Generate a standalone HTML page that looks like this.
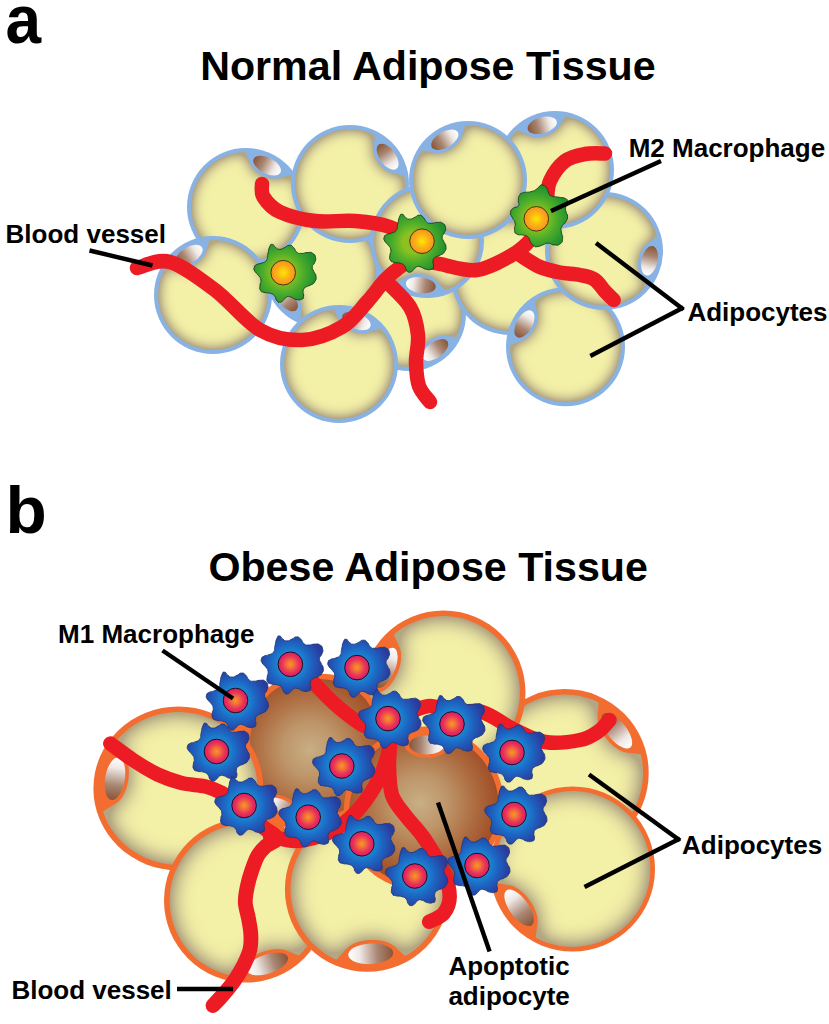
<!DOCTYPE html>
<html><head><meta charset="utf-8"><title>Adipose tissue</title>
<style>html,body{margin:0;padding:0;background:#fff}svg{display:block}text{font-family:"Liberation Sans",sans-serif;font-weight:bold;fill:#000}</style>
</head><body>
<svg width="829" height="1024" viewBox="0 0 829 1024">
<defs>
<filter id="fy" x="-25%" y="-25%" width="150%" height="150%" color-interpolation-filters="sRGB">
<feGaussianBlur in="SourceAlpha" stdDeviation="7" result="bl"/>
<feComponentTransfer in="bl" result="bl2"><feFuncA type="linear" slope="2" intercept="-1"/></feComponentTransfer>
<feFlood flood-color="#f3f0a7" result="lt"/>
<feComposite in="lt" in2="bl2" operator="in" result="ltIn"/>
<feFlood flood-color="#b3a683" result="dk"/>
<feMerge result="m"><feMergeNode in="dk"/><feMergeNode in="ltIn"/></feMerge>
<feComposite in="m" in2="SourceAlpha" operator="in"/>
</filter>
<filter id="fyb" x="-25%" y="-25%" width="150%" height="150%" color-interpolation-filters="sRGB">
<feGaussianBlur in="SourceAlpha" stdDeviation="11" result="bl"/>
<feComponentTransfer in="bl" result="bl2"><feFuncA type="linear" slope="2" intercept="-1"/></feComponentTransfer>
<feFlood flood-color="#f3f0a7" result="lt"/>
<feComposite in="lt" in2="bl2" operator="in" result="ltIn"/>
<feFlood flood-color="#b3a683" result="dk"/>
<feMerge result="m"><feMergeNode in="dk"/><feMergeNode in="ltIn"/></feMerge>
<feComposite in="m" in2="SourceAlpha" operator="in"/>
</filter>
<linearGradient id="nu" x1="0" y1="0.5" x2="1" y2="0.5"><stop offset="0" stop-color="#8a5436"/><stop offset="0.35" stop-color="#a98773"/><stop offset="0.75" stop-color="#efe9e6"/><stop offset="1" stop-color="#fff"/></linearGradient>
<radialGradient id="mg" gradientUnits="userSpaceOnUse" cx="0" cy="0" r="33"><stop offset="0.3" stop-color="#8cc21f"/><stop offset="0.6" stop-color="#4fae2a"/><stop offset="1" stop-color="#1f8f2f"/></radialGradient>
<radialGradient id="ng" cx="0.5" cy="0.5" r="0.5"><stop offset="0" stop-color="#ffe800"/><stop offset="0.55" stop-color="#fbb017"/><stop offset="1" stop-color="#f7931e"/></radialGradient>
<radialGradient id="mb" gradientUnits="userSpaceOnUse" cx="0" cy="0" r="33"><stop offset="0.3" stop-color="#1a8fd6"/><stop offset="0.62" stop-color="#1d65c2"/><stop offset="1" stop-color="#2b3a9c"/></radialGradient>
<radialGradient id="nb" cx="0.5" cy="0.5" r="0.5"><stop offset="0" stop-color="#f79a1e"/><stop offset="0.3" stop-color="#f2703a"/><stop offset="0.7" stop-color="#e8305a"/><stop offset="1" stop-color="#dc1c66"/></radialGradient>
<radialGradient id="bg1" gradientUnits="userSpaceOnUse" cx="310" cy="750" r="78.5"><stop offset="0" stop-color="#c9ae84"/><stop offset="0.35" stop-color="#bd9569"/><stop offset="0.7" stop-color="#ad6c40"/><stop offset="1" stop-color="#a04c24"/></radialGradient><radialGradient id="bg2" gradientUnits="userSpaceOnUse" cx="419.5" cy="803" r="79.5"><stop offset="0" stop-color="#c9ae84"/><stop offset="0.35" stop-color="#bd9569"/><stop offset="0.7" stop-color="#ad6c40"/><stop offset="1" stop-color="#a04c24"/></radialGradient></defs>
<rect width="829" height="1024" fill="#fff"/>
<!-- A8 -->
<circle cx="409" cy="314" r="57" fill="#88b2e3"/>
<path d="M415.2,366.6 416,366.3 416.5,365.6 418.8,354.3 419.4,352.3 420.4,350.2 421.7,348.1 423.9,345.4 425.8,343.4 428.7,341.1 431.8,339.1 434.3,337.8 437.5,336.6 440.6,335.9 444.3,335.8 455.7,337 456.4,336.9 457,336.4 458.6,332.7 459.7,329.4 461.3,322.6 461.7,319.2 462,314 461.6,307.1 460.6,302 459.2,297 457.3,292.2 454.9,287.5 452.1,283.2 448.9,279.1 445.3,275.3 441.3,272 437,269 432.5,266.5 427.7,264.4 422.8,262.8 417.7,261.7 412.5,261.1 407.3,261 402.1,261.4 397,262.4 392,263.8 387.2,265.7 382.5,268.1 378.2,270.9 374.1,274.1 370.3,277.7 367,281.7 364,286 361.5,290.5 359.4,295.3 357.8,300.2 356.7,305.3 356.1,310.5 356,315.7 356.4,320.9 357.4,326 358.8,331 360.7,335.8 363.1,340.5 365.9,344.8 369.1,348.9 372.7,352.7 376.7,356 381,359 385.5,361.5 390.3,363.6 395.2,365.2 400.3,366.3 405.5,366.9 410.7,367Z" fill="#f3f0a7" filter="url(#fy)"/>
<ellipse cx="0" cy="0" rx="15" ry="8" fill="url(#nu)" transform="translate(435.2,350) rotate(144)"/>
<!-- A9 -->
<circle cx="510" cy="276" r="59" fill="#88b2e3"/>
<path d="M565,276 564.7,270.6 563.9,265.3 562.6,260 560.8,255 558.5,250.1 555.7,245.4 552.5,241.1 548.9,237.1 544.9,233.5 540.6,230.3 535.9,227.5 531,225.2 526,223.4 520.7,222.1 515.4,221.3 510,221 504.6,221.3 499.3,222.1 494,223.4 489,225.2 484.1,227.5 479.4,230.3 475.1,233.5 471.1,237.1 467.5,241.1 464.3,245.4 461.5,250.1 459.2,255 457.4,260 456.1,265.3 455.3,270.6 455,276 455.3,281.4 456.1,286.7 457.4,292 459.2,297 461.5,301.9 464.3,306.6 467.5,310.9 471.1,314.9 475.1,318.5 479.4,321.7 484.1,324.5 489,326.8 494,328.6 499.3,329.9 504.6,330.7 510,331 515.4,330.7 520.7,329.9 526,328.6 531,326.8 535.9,324.5 540.6,321.7 544.9,318.5 548.9,314.9 552.5,310.9 555.7,306.6 558.5,301.9 560.8,297 562.6,292 563.9,286.7 564.7,281.4Z" fill="#f3f0a7" filter="url(#fy)"/>
<!-- A5 -->
<circle cx="322" cy="270" r="58" fill="#88b2e3"/>
<path d="M268.9,279.5 269.2,280.3 270,280.8 281.5,282.5 283.6,283.1 285.6,283.9 287.9,285.1 290.6,287.1 292.7,289 295.2,291.7 297.3,294.7 298.7,297.1 300.1,300.3 301,303.4 301.3,307 300.6,318.7 300.8,319.3 301.3,319.9 304.6,321.1 308,322.1 315,323.5 320.2,324 323.7,324 330.8,323.3 336,322.1 341.1,320.5 345.9,318.4 350.6,315.8 354.9,312.8 358.9,309.4 362.6,305.6 365.9,301.4 368.8,297 371.2,292.2 373.1,287.3 374.6,282.2 375.5,277 376,271.7 375.9,266.4 375.3,261.2 374.1,256 372.5,250.9 370.4,246.1 367.8,241.4 364.8,237.1 361.4,233.1 357.6,229.4 353.4,226.1 349,223.2 344.2,220.8 339.3,218.9 334.2,217.4 329,216.5 323.7,216 318.4,216.1 313.2,216.7 308,217.9 302.9,219.5 298.1,221.6 293.4,224.2 289.1,227.2 285.1,230.6 281.4,234.4 278.1,238.6 275.2,243 272.8,247.8 270.9,252.7 269.4,257.8 268.5,263 268,268.3 268.1,273.6Z" fill="#f3f0a7" filter="url(#fy)"/>
<ellipse cx="0" cy="0" rx="15" ry="8" fill="url(#nu)" transform="translate(286.6,298.6) rotate(231)"/>
<!-- A1 -->
<circle cx="246" cy="207" r="59" fill="#88b2e3"/>
<path d="M250.3,163.9 246.1,152.9 245.6,152.2 244.9,152 240.6,152.3 237.1,152.7 230.1,154.4 223.3,156.9 220,158.5 216.9,160.3 211.1,164.5 207.1,168.1 203.5,172.1 199.3,177.9 196.7,182.7 193.9,189.3 192.4,194.6 191.3,201.6 191,207 191.3,212.4 192,217.7 193.4,222.9 195.2,228 197.5,232.9 200.2,237.5 203.5,241.9 207.1,245.9 211.1,249.5 215.4,252.7 220,255.5 224.9,257.8 230,259.6 235.2,260.9 240.6,261.7 246,262 251.4,261.7 256.7,261 261.9,259.6 267,257.8 271.9,255.5 276.5,252.8 280.9,249.5 284.9,245.9 288.5,241.9 291.7,237.6 294.5,233 296.8,228.1 298.6,223 299.9,217.8 300.7,212.4 301,208.8 300.9,203.4 300.3,198 299.1,192.8 298.1,189.3 296.1,184.3 293.7,179.5 291,175.5 290.4,175.1 289.7,175.1 278.5,178.2 276.3,178.5 272.3,178.5 268.1,177.7 264.7,176.5 262.1,175.4 259.7,174 257.4,172.4 255.3,170.7 253,168.3 251.6,166.4Z" fill="#f3f0a7" filter="url(#fy)"/>
<ellipse cx="0" cy="0" rx="15" ry="8" fill="url(#nu)" transform="translate(267.1,165.6) rotate(27)"/>
<!-- A3 -->
<circle cx="350" cy="184" r="59" fill="#88b2e3"/>
<path d="M373.3,148.9 374.7,135.8 374.5,135.1 374.1,134.6 371.1,133.2 367.6,131.9 360.7,130 353.6,129.1 346.4,129.1 339.3,130 334,131.4 327.3,133.9 322.5,136.4 316.6,140.3 312.4,143.9 307.5,149.1 304.2,153.5 301.5,158.1 299.2,163 297.4,168.1 296,173.3 295.3,178.6 295,184 295.3,189.4 296.1,194.8 297.4,200 299.2,205.1 301.5,210 304.3,214.6 307.5,218.9 311.1,222.9 315.1,226.5 319.5,229.8 324.1,232.5 329,234.8 334.1,236.6 339.3,238 344.6,238.7 350,239 355.4,238.7 360.8,237.9 366,236.6 371.1,234.8 376,232.5 380.6,229.7 384.9,226.5 388.9,222.9 392.5,218.9 395.8,214.5 398.5,210 400.8,205.1 402.1,201.6 403.6,196.4 404.5,191.1 405,185.8 404.9,180.4 404.4,176.3 404.1,175.8 403.5,175.4 392,173.1 390,172.4 387.1,171 383.6,168.5 381.1,166 379.3,163.9 376.3,159.2 375.1,156.7 374.2,154.3 373.6,151.9Z" fill="#f3f0a7" filter="url(#fy)"/>
<ellipse cx="0" cy="0" rx="15" ry="8" fill="url(#nu)" transform="translate(387.6,156.7) rotate(54)"/>
<!-- A12 -->
<circle cx="565.5" cy="346.8" r="59.5" fill="#88b2e3"/>
<path d="M511.1,344.5 510.3,345 510,345.8 510.3,352.2 511.4,359.4 513,364.7 515,369.7 517.5,374.6 520.4,379.2 525,384.7 528.9,388.5 533.1,391.9 537.7,394.8 542.6,397.3 547.6,399.3 552.9,400.8 558.2,401.8 563.6,402.3 569.1,402.2 574.5,401.6 579.8,400.4 585,398.8 590,396.6 594.8,394 599.3,390.9 603.4,387.3 607.2,383.4 610.6,379.2 613.5,374.6 616,369.7 618,364.7 619.5,359.4 620.5,354.1 621,348.7 620.9,343.2 620.3,337.8 619.1,332.5 617.5,327.3 615.3,322.3 612.7,317.5 609.6,313 606,308.9 602.1,305.1 597.9,301.7 593.3,298.8 588.4,296.3 583.4,294.3 578.1,292.8 572.8,291.8 567.4,291.3 563.6,291.3 560,291.6 554.7,292.4 551.1,293.2 547.6,294.3 542.6,296.2 539.3,297.9 535.1,300.4 534.7,301 534.7,301.7 537.4,313.2 537.7,316.8 537.4,320.1 536.6,323.4 535.6,326 534,329.3 532,332.5 530.3,334.7 527.9,337.1 525.4,339.1 522.1,340.8Z" fill="#f3f0a7" filter="url(#fy)"/>
<ellipse cx="0" cy="0" rx="15" ry="8" fill="url(#nu)" transform="translate(524.4,324) rotate(-61)"/>
<!-- A11 -->
<circle cx="604" cy="251" r="59" fill="#88b2e3"/>
<path d="M638,264.8 638.3,261.1 639.2,256.5 640.7,252.3 642.7,248.5 644.6,245.9 646.3,244.3 656.3,237.1 656.7,236.5 656.8,235.7 654.8,230 652.5,225 648.7,219 645.3,214.7 640.3,209.7 636,206.3 630,202.5 625,200.2 619.9,198.4 614.7,197 609.4,196.3 604,196 598.6,196.3 593.2,197.1 588,198.4 582.9,200.2 578,202.5 573.4,205.3 569.1,208.5 565.1,212.1 561.5,216.1 558.2,220.5 555.5,225.1 553.2,230 551.4,235.1 550,240.3 549.3,245.6 549,251 549.3,256.4 550.1,261.8 551.4,267 553.2,272.1 555.5,277 558.3,281.6 561.5,285.9 565.1,289.9 569.1,293.5 573.5,296.8 578.1,299.5 583,301.8 589.8,304.1 596.8,305.5 604,306 609.4,305.7 616.5,304.6 623.3,302.5 629.9,299.5 634.6,296.7 637.5,294.6 641.6,291.2 645.3,287.3 646,286.5 646.3,285.8 646.1,284.8 640.2,274.9 639.3,272.9 638.3,269.1Z" fill="#f3f0a7" filter="url(#fy)"/>
<ellipse cx="0" cy="0" rx="15" ry="8" fill="url(#nu)" transform="translate(649.5,260.7) rotate(102)"/>
<!-- A7 -->
<circle cx="427" cy="241" r="57" fill="#88b2e3"/>
<path d="M406,276.8 407.9,275.8 410.1,275 413.3,274.2 415.9,273.9 418.6,273.9 421.4,274.1 425.1,274.7 427.8,275.4 431.8,277.1 433.9,278.3 435.7,279.7 437.3,281.3 444.6,290 445.2,290.4 445.9,290.5 450.4,288.6 455,286 457.9,284.1 461.9,280.9 464.5,278.4 467.9,274.7 470.1,271.8 472.9,267.5 475.3,262.9 477.2,258.1 478.6,253.1 479.5,248 480,242.8 479.9,237.6 479.3,232.4 478.2,227.3 476.6,222.4 474.6,217.6 472,213 469.1,208.8 465.7,204.8 462,201.2 457.9,197.9 453.5,195.1 448.9,192.7 444.1,190.8 439.1,189.4 434,188.5 428.8,188 423.6,188.1 418.4,188.7 413.3,189.8 408.4,191.4 403.6,193.4 399,196 394.8,198.9 390.8,202.3 387.2,206 383.9,210.1 381.1,214.5 378.7,219.2 376.3,225.6 375,230.7 374.1,237.5 374,242.8 374.7,249.6 375.8,254.8 378,261.2 381.1,267.5 385,273.3 389.6,278.5 392.1,280.9 395,283.3 395.9,283.5 396.5,283.3Z" fill="#f3f0a7" filter="url(#fy)"/>
<ellipse cx="0" cy="0" rx="15" ry="8" fill="url(#nu)" transform="translate(420.8,285.1) rotate(188)"/>
<!-- A2 -->
<circle cx="213" cy="295" r="59" fill="#88b2e3"/>
<path d="M178.7,268.5 167.2,266.2 166.5,266.3 165.8,266.8 163.7,270.6 162.2,273.9 159.9,280.7 159,284.3 158.5,287.9 158,295 158.5,302.1 159.4,307.5 160.9,312.7 163.7,319.3 166.3,324.1 170.5,329.9 174.1,333.9 179.5,338.6 183.9,341.7 188.6,344.3 193.6,346.5 198.7,348.1 204,349.3 209.4,349.9 214.8,350 220.1,349.5 225.4,348.6 230.6,347.1 235.7,345.1 240.5,342.7 245,339.7 249.2,336.4 253.1,332.6 256.6,328.5 259.7,324.1 262.3,319.4 264.5,314.4 266.1,309.3 267.3,304 267.9,298.6 268,293.2 267.5,287.9 266.6,282.6 265.1,277.4 263.1,272.3 260.7,267.5 257.7,263 254.4,258.8 250.6,254.9 246.5,251.4 243.5,249.2 238.9,246.5 234,244.2 229,242.4 225.4,241.4 220.1,240.5 214.8,240 210.1,240.1 209.5,240.4 209.1,241 205.8,252.2 204.9,254.3 202.8,257.6 199.8,260.7 197.1,263 194.7,264.6 192.2,265.9 189.7,267 187.2,267.9 183.9,268.5 181.5,268.7Z" fill="#f3f0a7" filter="url(#fy)"/>
<ellipse cx="0" cy="0" rx="15" ry="8" fill="url(#nu)" transform="translate(189.1,255.1) rotate(-31)"/>
<!-- A6 -->
<circle cx="339" cy="364" r="59" fill="#88b2e3"/>
<path d="M334.5,310.2 333.9,309.6 333.1,309.3 326.6,310.4 321.3,311.9 314.7,314.7 310,317.3 305.5,320.4 301.4,323.9 297.6,327.8 294.3,332 291.3,336.5 288.9,341.3 286.9,346.4 285.1,353.2 284.3,358.6 284,364 284.3,369.4 285,374.7 286.4,379.9 288.2,385 290.5,389.9 293.2,394.5 296.5,398.9 300.1,402.9 304.1,406.5 308.4,409.7 313,412.5 317.9,414.8 323,416.6 328.2,417.9 333.6,418.7 339,419 344.4,418.7 349.7,418 354.9,416.6 360,414.8 364.9,412.5 369.5,409.8 373.9,406.5 377.9,402.9 381.5,398.9 384.7,394.6 387.5,390 389.8,385.1 391.6,380 392.9,374.8 393.7,369.4 394,364 393.7,358.6 393.3,355 392.6,351.5 391.1,346.4 389.8,342.9 388.3,339.6 385.7,335 383.7,331.9 381.1,328.7 380.4,328.4 379.8,328.4 368.7,332.5 365.2,333.2 361.9,333.3 358.5,332.9 355.8,332.3 352.3,331.1 349,329.5 346.6,328.1 343.9,326 341.6,323.7 339.5,320.7Z" fill="#f3f0a7" filter="url(#fy)"/>
<ellipse cx="0" cy="0" rx="15" ry="8" fill="url(#nu)" transform="translate(356.4,320.9) rotate(22)"/>
<!-- A10 -->
<circle cx="555" cy="170" r="59" fill="#88b2e3"/>
<path d="M528.7,135.6 518.2,130.3 517.3,130.2 516.7,130.5 513.7,133.7 511.4,136.5 507.4,142.5 505.7,145.7 504.2,149 501.9,155.8 500.5,162.8 500,168.2 500.3,175.4 501.1,180.8 502.9,187.6 504.9,192.7 508.3,199 511.3,203.4 514.8,207.6 518.7,211.3 522.9,214.7 527.5,217.6 532.3,220.1 537.3,222.1 542.5,223.6 547.8,224.5 553.2,225 558.6,224.9 563.9,224.3 569.2,223.1 574.3,221.5 579.3,219.3 584,216.7 588.4,213.7 592.6,210.2 596.3,206.3 599.7,202.1 602.6,197.5 605.1,192.7 607.1,187.7 608.6,182.5 609.5,177.2 610,171.8 609.9,166.4 609.3,161.1 608.1,155.8 606.5,150.7 604.3,145.7 601.7,141 598.7,136.6 596.3,133.7 592.6,129.8 588.5,126.4 584.1,123.3 580.9,121.5 576,119.2 571,117.4 566.4,116.2 565.7,116.4 565.2,116.8 559.1,126.8 557.7,128.6 554.8,131.2 551.2,133.5 547.9,135 545.2,135.9 542.5,136.5 539.8,136.9 537.1,137.1 533.8,136.9 531.4,136.5Z" fill="#f3f0a7" filter="url(#fy)"/>
<ellipse cx="0" cy="0" rx="15" ry="8" fill="url(#nu)" transform="translate(542.2,125.3) rotate(-16)"/>
<!-- A4 -->
<circle cx="468" cy="180" r="59" fill="#88b2e3"/>
<path d="M422.9,150.4 422,150.5 421.3,151 418.7,155.7 415.9,162.3 414.4,167.6 413.3,174.6 413,180 413.3,185.4 414,190.7 415.4,195.9 417.2,201.1 419.5,206 422.3,210.6 425.5,214.9 429.1,218.9 433.1,222.5 437.5,225.8 442.1,228.5 447,230.8 452.1,232.6 457.3,234 462.6,234.7 468,235 473.4,234.7 478.8,233.9 484,232.6 489.1,230.8 494,228.5 498.6,225.7 502.9,222.5 506.9,218.9 510.5,214.9 513.8,210.5 516.5,205.9 518.8,201 520.6,195.9 522,190.7 522.7,185.4 523,180 522.7,174.6 521.9,169.2 520.6,164 518.8,158.9 516.5,154 513.7,149.4 510.5,145.1 506.9,141.1 502.9,137.5 498.5,134.2 494,131.5 490.7,129.9 487.3,128.5 482.3,126.9 478.7,126 473.4,125.3 469.8,125 466.1,125.1 465.5,125.4 465,125.9 461.5,137.2 459.9,140.4 457.9,143 455.5,145.5 453.3,147.2 450.3,149.2 447,150.9 444.4,151.9 441,152.8 437.8,153.2 434.2,152.9Z" fill="#f3f0a7" filter="url(#fy)"/>
<ellipse cx="0" cy="0" rx="15" ry="8" fill="url(#nu)" transform="translate(444.8,139.7) rotate(-30)"/>
<path d="M137,268C142.5,267 157,258.3 170,262C183,265.7 200,278.7 215,290C230,301.3 245.5,321.7 260,330C274.5,338.3 288.3,340.5 302,340C315.7,339.5 331.2,333.3 342,327C352.8,320.7 359.8,309.8 367,302C374.2,294.2 379.5,285.8 385,280C390.5,274.2 394.5,271 400,267C405.5,263 415,257.8 418,256" fill="none" stroke="#ed1c24" stroke-width="14.5" stroke-linecap="round" stroke-linejoin="round"/>
<path d="M415,258C419.2,259 429.7,262 440,264C450.3,266 465,271.5 477,270C489,268.5 502.8,260.3 512,255C521.2,249.7 526.5,244.7 532,238C537.5,231.3 542.8,218.8 545,215" fill="none" stroke="#ed1c24" stroke-width="14.5" stroke-linecap="round" stroke-linejoin="round"/>
<path d="M547,200C547.5,196.8 547,187.5 550,181C553,174.5 559.2,165.5 565,161C570.8,156.5 578.3,155.2 585,154C591.7,152.8 601.7,153.6 605,153.5" fill="none" stroke="#ed1c24" stroke-width="14.5" stroke-linecap="round" stroke-linejoin="round"/>
<path d="M520,255C523.3,257 533.3,264.1 540,267C546.7,269.9 553.3,271.2 560,272.5C566.7,273.8 574.2,273.8 580,275C585.8,276.2 590.5,276.9 594.6,279.6C598.8,282.3 601.7,287.9 604.9,291.3C608.1,294.7 612.2,298.6 613.7,300" fill="none" stroke="#ed1c24" stroke-width="14.5" stroke-linecap="round" stroke-linejoin="round"/>
<path d="M262,184C262.2,186.2 260.5,192.3 263.5,197C266.5,201.7 271.4,208 280,212C288.6,216 302.5,219.5 315,221C327.5,222.5 342.5,220 355,221C367.5,222 380.8,223.8 390,227C399.2,230.2 406.7,237.8 410,240" fill="none" stroke="#ed1c24" stroke-width="14.5" stroke-linecap="round" stroke-linejoin="round"/>
<path d="M387,282C390.8,286.2 404.8,298.2 410,307C415.2,315.8 417,325.8 418,335C419,344.2 415.8,353.5 416,362C416.2,370.5 416.7,379.3 419,386C421.3,392.7 428.2,399.3 430,402" fill="none" stroke="#ed1c24" stroke-width="14.5" stroke-linecap="round" stroke-linejoin="round"/>
<g transform="translate(283.2,272.7)"><path d="M-10.8,-28.3C-8.8,-28.1 -10.1,-26.9 -7.6,-25.2C-5.2,-23.6 -6.5,-23.4 -3.5,-23.4C-0.4,-23.4 -1.7,-23.9 1.6,-25.2C4.8,-26.6 3.2,-27.4 6.1,-27.4C9.1,-27.4 7.8,-27.5 10.3,-25.2C12.7,-23 10.9,-22.6 13.5,-20.7C16.1,-18.7 14.4,-19.4 18.1,-19.3C21.8,-19.1 20.7,-20.2 24.5,-20.2C28.3,-20.2 27,-21 29.6,-19.3C32.2,-17.6 31.7,-18.2 32.3,-15.1C32.9,-12.1 32.5,-13.2 31.4,-10.1C30.3,-7 29.4,-8.9 29.1,-6C28.8,-3.1 29.2,-4.6 30.5,-1.4C31.7,1.8 32.5,0.2 32.8,3.7C33.1,7.2 33.2,6.3 31.4,9.2C29.6,12.1 30.3,10.6 27.3,12.4C24.2,14.2 24.7,12.7 22.2,14.7C19.8,16.7 20.5,15.3 19.9,18.4C19.3,21.4 21,21.1 20.4,23.9C19.8,26.6 20.7,25.7 18.1,26.6C15.5,27.5 16.1,27.4 12.6,26.6C9.1,25.9 10.6,25.1 7.5,24.3C4.5,23.6 5.8,23.3 3.4,24.3C0.9,25.4 2.5,25.8 0.2,27.5C-2.1,29.3 -1.2,29.6 -3.5,29.6C-5.8,29.6 -5,29.6 -6.7,27.5C-8.4,25.5 -6.5,25.7 -8.5,23.4C-10.5,21.1 -9.1,21.9 -12.7,20.7C-16.2,19.4 -15.7,20.8 -19.1,19.7C-22.5,18.7 -21.4,19.7 -22.8,17.4C-24.1,15.1 -23.4,16.2 -23.2,12.8C-23.1,9.5 -21.8,10.7 -22.3,7.3C-22.8,4 -22.6,5.7 -24.6,2.8C-26.6,-0.2 -26.8,1.4 -28.3,-1.4C-29.7,-4.1 -29.5,-3.3 -28.9,-5.5C-28.3,-7.7 -28.9,-6.7 -26.4,-8.1C-23.9,-9.5 -24.6,-8.2 -21.4,-9.6C-18.2,-11.1 -18.8,-9.5 -16.8,-12.4C-14.8,-15.3 -16.5,-13.9 -15.4,-18.4C-14.3,-22.8 -15.1,-22.4 -13.6,-25.7C-12.1,-29 -12.8,-28.4 -10.8,-28.3Z" fill="url(#mg)" stroke="#143d14" stroke-width="0.9"/><circle r="12.3" fill="url(#ng)" stroke="#3a2a10" stroke-width="0.9"/></g>
<g transform="translate(422,241.2)"><path d="M-10.8,-28.3C-8.8,-28.1 -10.1,-26.9 -7.6,-25.2C-5.2,-23.6 -6.5,-23.4 -3.5,-23.4C-0.4,-23.4 -1.7,-23.9 1.6,-25.2C4.8,-26.6 3.2,-27.4 6.1,-27.4C9.1,-27.4 7.8,-27.5 10.3,-25.2C12.7,-23 10.9,-22.6 13.5,-20.7C16.1,-18.7 14.4,-19.4 18.1,-19.3C21.8,-19.1 20.7,-20.2 24.5,-20.2C28.3,-20.2 27,-21 29.6,-19.3C32.2,-17.6 31.7,-18.2 32.3,-15.1C32.9,-12.1 32.5,-13.2 31.4,-10.1C30.3,-7 29.4,-8.9 29.1,-6C28.8,-3.1 29.2,-4.6 30.5,-1.4C31.7,1.8 32.5,0.2 32.8,3.7C33.1,7.2 33.2,6.3 31.4,9.2C29.6,12.1 30.3,10.6 27.3,12.4C24.2,14.2 24.7,12.7 22.2,14.7C19.8,16.7 20.5,15.3 19.9,18.4C19.3,21.4 21,21.1 20.4,23.9C19.8,26.6 20.7,25.7 18.1,26.6C15.5,27.5 16.1,27.4 12.6,26.6C9.1,25.9 10.6,25.1 7.5,24.3C4.5,23.6 5.8,23.3 3.4,24.3C0.9,25.4 2.5,25.8 0.2,27.5C-2.1,29.3 -1.2,29.6 -3.5,29.6C-5.8,29.6 -5,29.6 -6.7,27.5C-8.4,25.5 -6.5,25.7 -8.5,23.4C-10.5,21.1 -9.1,21.9 -12.7,20.7C-16.2,19.4 -15.7,20.8 -19.1,19.7C-22.5,18.7 -21.4,19.7 -22.8,17.4C-24.1,15.1 -23.4,16.2 -23.2,12.8C-23.1,9.5 -21.8,10.7 -22.3,7.3C-22.8,4 -22.6,5.7 -24.6,2.8C-26.6,-0.2 -26.8,1.4 -28.3,-1.4C-29.7,-4.1 -29.5,-3.3 -28.9,-5.5C-28.3,-7.7 -28.9,-6.7 -26.4,-8.1C-23.9,-9.5 -24.6,-8.2 -21.4,-9.6C-18.2,-11.1 -18.8,-9.5 -16.8,-12.4C-14.8,-15.3 -16.5,-13.9 -15.4,-18.4C-14.3,-22.8 -15.1,-22.4 -13.6,-25.7C-12.1,-29 -12.8,-28.4 -10.8,-28.3Z" transform="translate(-8.9,1.4)" fill="url(#mg)" stroke="#143d14" stroke-width="0.9"/><circle r="12.3" fill="url(#ng)" stroke="#3a2a10" stroke-width="0.9"/></g>
<g transform="translate(536.3,218.8)"><path d="M6.5,-33.7C8.7,-32.9 8.3,-33.7 10.3,-30.9C12.3,-28.2 10.9,-28.2 12.5,-25.5C14.1,-22.8 12.1,-24.1 15.2,-22.8C18.3,-21.5 17,-22.6 21.7,-21.7C26.4,-20.8 26.1,-21.9 29.3,-20.1C32.5,-18.3 31.3,-19.2 31.3,-16.3C31.3,-13.4 29.8,-14.7 29.3,-11.4C28.8,-8.1 29.2,-9.6 29.9,-6.5C30.5,-3.4 31.5,-5.4 31.3,-2.2C31.1,1.1 31.2,0 29.3,3.3C27.4,6.5 27,4.3 25.5,7.6C24.1,10.9 24.7,9 25,13C25.2,17 26.6,15.6 26.3,19.5C25.9,23.5 26.7,22.8 23.9,25C21.1,27.1 21.9,26.2 17.9,26.1C13.9,25.9 15.7,24.4 11.9,24.4C8.1,24.4 10,25 6.5,26.1C3.1,27.1 4.5,27.3 1.6,27.7C-1.3,28 0.4,28.8 -2.2,27.1C-4.7,25.5 -4,25.7 -6,22.8C-8,19.9 -5.8,20.6 -8.1,18.5C-10.5,16.3 -9.2,17.4 -13,16.3C-16.8,15.2 -16.6,17 -19.5,15.2C-22.4,13.4 -21.2,14.5 -21.7,10.9C-22.3,7.2 -20.4,8.3 -21.2,4.3C-21.9,0.4 -22.4,2.4 -23.9,-1.1C-25.4,-4.5 -25.9,-2.9 -25.7,-6C-25.6,-9 -26,-8 -23.3,-10.3C-20.7,-12.7 -19.7,-10.3 -17.9,-13C-16.1,-15.7 -18.3,-15 -17.9,-18.5C-17.6,-21.9 -18.5,-20.8 -16.8,-23.3C-15.2,-25.9 -16.8,-24.8 -13,-26.1C-9.2,-27.3 -10,-25.9 -5.4,-27.1C-0.9,-28.4 -2.5,-27.9 0.5,-29.9C3.6,-31.8 1.8,-31.8 3.8,-33.1C5.8,-34.4 4.3,-34.4 6.5,-33.7Z" fill="url(#mg)" stroke="#143d14" stroke-width="0.9"/><circle r="12.3" fill="url(#ng)" stroke="#3a2a10" stroke-width="0.9"/></g>
<line x1="89.5" y1="250.5" x2="152.5" y2="265.5" stroke="#000" stroke-width="4.4"/>
<line x1="551" y1="211" x2="661" y2="161" stroke="#000" stroke-width="4.4"/>
<line x1="596" y1="243" x2="683.5" y2="309.5" stroke="#000" stroke-width="4.4"/>
<line x1="590.3" y1="356" x2="683.5" y2="307.5" stroke="#000" stroke-width="4.4"/>
<!-- B3 -->
<circle cx="564.7" cy="773" r="84" fill="#f26d2f"/>
<path d="M597.5,717.8 598.7,703.3 598.4,702.5 597.8,701.9 592.4,699.6 587.4,698 580.1,696.1 575,695.3 569.8,694.8 564.6,694.6 559.5,694.8 552,695.6 544.5,697.3 537,699.6 532.3,701.6 527.8,703.8 521.1,707.9 517,710.8 513.1,714 507.4,719.5 502.5,725.3 499.6,729.4 496.8,733.7 493.3,740.6 490.5,747.7 488.4,755.1 487,762.7 486.3,770.4 486.5,778.1 487.3,785.7 489,793.2 491.3,800.6 494.4,807.6 498.1,814.3 502.5,820.7 507.4,826.5 513,831.9 519,836.7 525.4,840.9 532.3,844.4 539.4,847.2 546.8,849.3 554.4,850.7 562.1,851.4 569.8,851.2 577.4,850.4 584.9,848.7 592.3,846.4 599.3,843.3 606,839.6 612.4,835.2 618.2,830.3 623.6,824.7 628.4,818.7 632.6,812.3 636.1,805.4 638.9,798.3 641,790.9 642.4,783.3 643.1,775.6 642.9,767.9 642.1,760.3 641,755.1 640.6,754.5 639.9,754.2 626.4,752.5 623.1,751.7 621.1,750.9 618.4,749.4 615.5,747.5 612.8,745.4 610,742.8 606.7,739.1 604.4,735.9 601.8,731.8 600.1,728.5 598.6,724.4 597.9,721.3Z" fill="#f3f0a7" filter="url(#fyb)"/>
<ellipse cx="0" cy="0" rx="21.5" ry="9.5" fill="url(#nu)" transform="translate(616.8,730.8) rotate(51)"/>
<!-- B2 -->
<circle cx="443.5" cy="692.5" r="82" fill="#f26d2f"/>
<path d="M368.4,696.6 367.6,697.1 367.3,698 367.8,702.5 368.6,707.5 369.7,712.3 371.1,717 373.9,724.1 377.4,730.8 381.4,737.1 386.1,742.9 389.5,746.6 393.1,749.9 398.9,754.6 405.2,758.6 411.9,762.1 418.9,764.8 426.1,766.9 433.5,768.2 440.9,768.9 448.4,768.7 455.9,767.9 463.2,766.3 470.4,764 477.2,761 483.8,757.4 490,753.2 495.7,748.3 500.9,742.9 505.6,737.1 509.6,730.8 513.1,724.1 515.8,717.1 517.9,709.9 519.2,702.5 519.9,695.1 519.7,687.6 518.9,680.1 517.3,672.8 515,665.6 512,658.8 508.4,652.2 504.2,646 499.3,640.3 493.9,635.1 488.1,630.4 481.8,626.4 475.1,622.9 468.1,620.2 460.9,618.1 453.5,616.8 446.1,616.1 438.6,616.3 433.5,616.8 426.2,618.1 421.3,619.4 414.3,621.9 409.7,624 403.2,627.6 398.9,630.4 394.4,634 394.1,634.7 394.2,635.4 400.1,649 400.8,651.6 401.1,654.4 401.1,658.7 400.5,663.3 399.3,668.1 397.5,672.9 395.2,677.6 392.6,681.8 389.8,685.4 386.1,688.9 383.8,690.5 382.1,691.4Z" fill="#f3f0a7" filter="url(#fyb)"/>
<ellipse cx="0" cy="0" rx="21.5" ry="9.5" fill="url(#nu)" transform="translate(385.5,667.9) rotate(293)"/>
<!-- B4 -->
<circle cx="572.5" cy="869" r="82.5" fill="#f26d2f"/>
<path d="M495.6,881.7 496,882.5 496.7,883 511.3,885.8 513.9,886.6 516.5,887.9 519.4,889.8 523,892.7 526.5,896.2 529.6,900.2 532.4,904.3 534.6,908.7 536.3,913 537.3,917.1 537.6,920 537.6,922 535.8,936.7 536,937.5 536.5,938 542.6,940.9 547.5,942.8 554.7,944.8 559.9,945.9 567.3,946.7 572.6,946.9 580.1,946.5 585.3,945.8 592.7,944.2 600,941.9 607,938.8 613.7,935.1 620,930.8 625.8,925.8 631.1,920.3 635.9,914.3 640,907.9 643.5,901.1 646.3,894 648.4,886.6 649.7,879.1 650.4,871.5 650.2,863.8 649.3,856.2 647.7,848.8 645.4,841.5 642.3,834.5 638.6,827.8 634.3,821.5 629.3,815.7 623.8,810.4 617.8,805.6 611.4,801.5 604.6,798 597.5,795.2 590.1,793.1 582.6,791.8 575,791.1 567.3,791.3 559.7,792.2 552.3,793.8 545,796.1 538,799.2 531.3,802.9 525,807.2 519.2,812.2 513.9,817.7 509.1,823.7 505,830.1 501.5,836.9 498.7,844 496.6,851.4 495.3,858.9 494.6,866.5 494.8,874.2Z" fill="#f3f0a7" filter="url(#fyb)"/>
<ellipse cx="0" cy="0" rx="21.5" ry="9.5" fill="url(#nu)" transform="translate(519.1,907.8) rotate(234)"/>
<!-- Bp1 -->
<path d="M386,752 385.8,761 385.3,768.2 384.3,774.8 382.2,783.8 380.4,789.4 378.2,794.7 375.7,799.6 371.2,806.4 366.1,812.4 362.2,815.9 358.1,819.1 353.6,821.9 348.8,824.3 346.3,825.4 341.1,827.2 335.6,828.7 329.6,829.7 323.1,830.3 319.5,830.4 310.5,830.4 303.5,830 297.3,829.2 291.6,828 288.9,827.2 283.7,825.4 278.7,823.2 276.4,821.9 271.9,819.1 267.8,815.9 262.1,810.4 257.2,804.2 254.3,799.6 250.6,792.1 248.6,786.7 246.3,777.9 245.2,771.5 244.2,761 244,752 244.2,743 245.2,732.5 246.3,726.1 248.6,717.3 250.6,711.9 254.3,704.4 258.8,697.6 263.9,691.6 269.8,686.5 274.1,683.5 278.7,680.8 281.2,679.7 286.2,677.6 291.6,676 294.4,675.3 300.4,674.3 306.9,673.7 310.5,673.6 323.1,673.7 329.6,674.3 332.7,674.8 338.4,676 343.8,677.6 346.3,678.6 351.3,680.8 353.6,682.1 358.1,684.9 364.2,689.8 369.6,695.5 374.3,702.1 378.2,709.3 380.4,714.6 383,723.1 384.8,732.5 385.8,743Z" fill="#f26d2f"/>
<path d="M265,795.7 267.1,794.7 270.2,794.1 273.7,794 277.6,794.5 280.8,795.3 285,796.8 289.1,798.8 293,801.2 295.7,803.3 298.7,806.2 300.7,808.5 302.7,811.6 303.8,813.9 304.3,816.1 304.3,823.6 304.8,824.4 305.7,824.7 315,825 319.4,824.9 325.9,824.6 331.8,823.8 339.6,821.9 346.5,819.3 352.9,815.9 358.6,811.7 363.7,806.8 368.2,801.1 372.1,794.7 375.2,787.5 377,782.3 378.9,773.8 379.8,767.6 380.5,756.9 380.5,747.1 380.1,739.7 378.9,730.2 377.7,724.4 375.2,716.5 372.1,709.4 369.6,704.9 365.4,699.1 360.5,693.9 355,689.5 350.8,686.9 344.3,683.7 339.5,682 331.8,680.2 326,679.4 319.3,679 310.6,679.1 304.1,679.4 298.2,680.2 292.9,681.4 285.7,683.7 281.2,685.8 275.1,689.4 271.3,692.3 266.3,697.2 261.8,702.9 259.1,707.2 255.7,714 253.9,719 251.7,727.2 250.6,733.2 249.9,739.8 249.5,747.2 249.5,756.9 250.2,767.6 251.6,776.7 253.8,784.9 256.7,792.3 259.8,797.8 260.5,798.2 261.4,798.1Z" fill="url(#bg1)"/>
<ellipse cx="0" cy="0" rx="19" ry="9" fill="url(#nu)" transform="translate(283,809.7) rotate(209)"/>
<circle cx="277" cy="821" r="10" fill="#f26d2f"/>
<circle cx="242" cy="728" r="6" fill="#f26d2f"/>
<!-- B1 -->
<g transform="translate(178.4,788.4) scale(1.0366,1) translate(-178.4,-788.4)">
<circle cx="178.4" cy="788.4" r="82" fill="#f26d2f"/>
<path d="M119.1,802.7 106.4,811 105.9,811.8 106,812.8 107.8,817.6 109.9,822.2 113.5,828.7 116.3,832.8 119.3,836.8 122.7,840.7 126.2,844.2 131.8,849 138.1,853.3 144.7,856.9 149.2,859 153.8,860.7 161.1,862.8 166,863.8 170.8,864.4 178.5,864.8 183.5,864.6 188.3,864.2 195.8,862.8 203,860.7 210,858 216.7,854.5 223,850.5 228.8,845.8 234.2,840.6 239.1,834.9 243.3,828.7 246.9,822.1 249.9,815.3 252.2,808.1 253.8,800.8 254.6,793.3 254.8,785.8 254.1,778.4 252.8,771 250.7,763.8 248,756.8 244.5,750.1 240.5,743.8 235.8,738 230.6,732.6 224.9,727.7 218.7,723.5 212.1,719.9 205.3,716.9 198.1,714.6 190.8,713 183.3,712.2 175.8,712 168.4,712.7 161,714 153.8,716.1 146.9,718.8 142.3,721.1 136,724.8 131.8,727.8 126.1,732.7 121,738 116.9,743.2 116.7,743.9 117,744.7 126.2,756.3 127.7,758.6 128.8,761.1 129.7,764 130.3,767.3 130.6,770.8 130.5,775.7 130,780.7 129,785.6 127.9,789.3 126.1,793.6 124,797.4 121.6,800.4Z" fill="#f3f0a7" filter="url(#fyb)"/>
<ellipse cx="0" cy="0" rx="21.5" ry="9.5" fill="url(#nu)" transform="translate(117.2,778.7) rotate(279)"/>
</g>
<!-- B5 -->
<circle cx="246" cy="900.5" r="82" fill="#f26d2f"/>
<path d="M244.2,964.9 245.7,962.7 247.9,960.4 251.2,957.7 254.2,955.8 258.5,953.5 262.2,952.1 265.8,950.9 270.6,949.8 274.2,949.3 277.6,949.1 280.8,949.2 283,949.5 286.3,950.4 298.1,955.3 298.8,955.3 299.5,955 303.5,950.8 308.1,944.9 312.2,938.6 315.6,932 318.4,925 320.4,917.8 321.8,910.4 322.4,902.9 322.2,895.4 321.4,888 319.8,880.7 317.5,873.5 314.5,866.7 310.8,860.1 306.6,853.9 301.7,848.2 296.3,843 290.4,838.4 284.1,834.3 277.5,830.9 270.5,828.1 263.3,826.1 255.9,824.7 248.4,824.1 240.9,824.3 233.5,825.1 226.2,826.7 219,829 212.2,832 205.6,835.7 199.4,839.9 193.7,844.8 188.5,850.2 183.9,856.1 179.8,862.4 176.4,869 173.6,876 171.6,883.2 170.2,890.6 169.6,898.1 169.8,905.6 170.3,910.5 171.1,915.3 172.9,922.7 175.4,929.8 178.7,936.6 181.2,940.9 183.9,944.9 188.6,950.9 192,954.6 195.6,957.9 199.5,961.2 203.6,964.1 209.9,967.8 214.4,970.1 219.1,972 223.9,973.6 231,975.4 236,976.2 237,976.2 237.9,975.7Z" fill="#f3f0a7" filter="url(#fyb)"/>
<ellipse cx="0" cy="0" rx="21.5" ry="9.5" fill="url(#nu)" transform="translate(267.5,964) rotate(161.3)"/>
<!-- B6 -->
<circle cx="367.3" cy="889.4" r="82.4" fill="#f26d2f"/>
<path d="M335.4,959.3 336.4,959.5 337.2,959.1 346.7,948.5 348.7,946.7 351.2,945 355.1,943.1 359.7,941.6 364.8,940.6 370,940 375.1,940 380.2,940.5 385,941.5 389.1,943 391.8,944.4 394,946 404.5,955.5 405.2,955.8 405.9,955.8 410,953.2 416,948.8 419.8,945.4 425,940.1 428.2,936.2 431.2,932 435,925.7 437.2,921.2 440,914.1 442.1,906.9 443.4,899.5 444.1,892 443.9,884.4 443.1,877 441.5,869.6 439.2,862.4 436.2,855.5 432.6,848.9 428.3,842.7 423.4,836.9 418,831.7 412.1,827 405.8,822.9 399.1,819.5 392,816.7 384.8,814.6 377.4,813.3 369.9,812.6 362.3,812.8 354.9,813.6 347.5,815.2 340.3,817.5 333.4,820.5 326.8,824.1 320.6,828.4 314.8,833.3 309.6,838.7 304.9,844.6 300.8,850.9 297.4,857.6 294.6,864.7 292.5,871.9 291.2,879.3 290.5,886.8 290.7,894.4 291.5,901.8 293.1,909.2 295.4,916.4 298.4,923.3 302,929.9 306.3,936.1 311.2,941.9 316.6,947.1 322.5,951.8 328.8,955.9Z" fill="#f3f0a7" filter="url(#fyb)"/>
<ellipse cx="0" cy="0" rx="22.5" ry="10.3" fill="url(#nu)" transform="translate(370.7,953.8) rotate(177)"/>
<!-- Bp2 -->
<path d="M484,858.2 492.3,846 493.9,843.3 496.7,837.9 499.1,832.1 500.1,829.2 501.8,823.4 503,817.3 503.5,814.2 503.9,808.1 503.9,801.9 503.5,795.8 503,792.7 501.8,786.6 500.1,780.8 499.1,777.9 496.7,772.1 493.9,766.7 492.3,764 488.8,758.8 485,754 482.9,751.7 478.5,747.4 476.2,745.3 471.2,741.5 466.1,738.1 463.4,736.5 457.8,733.7 452,731.4 449.1,730.4 443,728.7 433.9,727 427.6,726.6 418.3,726.7 412,727.5 402.9,729.4 397,731.4 394,732.5 388.4,735 382.9,738.1 380.3,739.7 375.3,743.3 370.5,747.4 368.3,749.5 364.1,754 362,756.4 358.4,761.4 355.1,766.7 353.7,769.4 351.1,774.9 348.9,780.8 348,783.7 346.5,789.7 344.5,800.4 343.7,808 343.5,813 343.7,818 344.5,825.6 346.1,833.1 348.5,840.3 351.5,847.3 355.2,853.9 359.5,860.2 364.5,866 369.9,871.3 373.8,874.5 377.9,877.4 384.4,881.3 391.4,884.6 398.5,887.2 405.9,889 410.9,889.8 415.9,890.3 423.5,890.5 431.1,889.8 438.6,888.5 443.5,887.2 448.3,885.5 455.3,882.5 461.9,878.8 468.2,874.5 474,869.6 479.3,864.1Z" fill="#f26d2f"/>
<path d="M352.6,787.9 349.6,803.5 349,810.6 349.2,817.6 350,824.7 350.9,829.3 352.1,833.8 354.5,840.5 357.5,846.9 361.1,853 363.8,856.8 366.8,860.4 371.7,865.5 377.2,870.1 383,874.2 387.1,876.5 391.2,878.6 397.8,881.2 404.7,883.1 411.6,884.4 418.7,885 425.7,884.8 430.3,884.4 435,883.6 441.8,881.9 448.6,879.5 455,876.5 461,872.9 466.7,868.6 471.9,863.9 476.7,858.7 479.5,854.9 482.8,849.9 486,845.6 489.1,840.7 491.7,835.5 494.9,827.6 496.5,822 498,813.5 498.4,807.8 498.4,802.1 498,796.4 497.1,790.7 495.7,785.2 493.9,779.7 491.7,774.4 489.1,769.3 486,764.4 482.6,759.8 478.8,755.4 474.7,751.4 470.3,747.7 465.6,744.3 460.6,741.3 454.6,738.4 453.8,738.5 453.2,739 447.2,750 445.8,751.7 444,753.3 441.1,755.1 437.5,756.5 433.6,757.4 429.3,757.9 424,757.8 418.7,756.9 414,755.3 410,753.1 407.5,751 406.1,749.2 400.6,737.4 400.2,736.9 399.7,736.6 398.8,736.5 396.1,737.6 388.3,741.3 381,745.9 374.3,751.4 368.2,757.6 363,764.4 358.6,771.8 355.1,779.7Z" fill="url(#bg2)"/>
<ellipse cx="0" cy="0" rx="17.5" ry="9.4" fill="url(#nu)" transform="translate(426.6,745) rotate(2)"/>
<path d="M110.3,743.6C114.1,746.3 125.2,754.9 133,760C140.8,765.1 149.3,770.6 157.4,774.4C165.5,778.2 173.5,781 181.5,783C189.5,785 198.8,784.8 205.6,786.5C212.3,788.2 215.6,789.8 222,793C228.4,796.2 240.3,803.8 244,806" fill="none" stroke="#ed1c24" stroke-width="14.5" stroke-linecap="round" stroke-linejoin="round"/>
<path d="M244,806C247,809.3 256.6,820.7 262,826C267.4,831.3 276,834.7 276.7,838C277.4,841.3 269.1,843.1 266,846C262.9,848.9 260.2,851.4 257.8,855.6C255.4,859.8 253.4,865.8 251.6,871C249.8,876.2 248.2,881.8 247.2,887C246.1,892.2 245.1,897.3 245.3,902.5C245.5,907.7 247.5,912.8 248.4,918C249.3,923.2 250.5,928.5 250.8,933.8C251.1,939 251.2,944.2 250,949.4C248.8,954.6 246.3,959.8 243.8,965C241.2,970.2 238,975.4 234.4,980.6C230.8,985.8 225.5,991.9 221.9,996C218.3,1000.1 214.5,1003.9 213,1005.5" fill="none" stroke="#ed1c24" stroke-width="14.8" stroke-linecap="round" stroke-linejoin="round"/>
<path d="M270,836C274.2,836.8 286.7,841 295,841C303.3,841 312.7,838.3 320,836C327.3,833.7 331.9,831.7 338.6,827C345.3,822.3 353.1,815.9 360,807.6C366.9,799.3 374.9,787.1 379.8,777C384.7,766.9 387.9,756 389.6,746.8C391.3,737.6 389.9,726.1 390,722" fill="none" stroke="#ed1c24" stroke-width="14.5" stroke-linecap="round" stroke-linejoin="round"/>
<path d="M391,735C390.7,740 388.8,755 389,765C389.2,775 389.3,786.7 392,795C394.7,803.3 399.6,807.7 405,815C410.4,822.3 417.9,829 424.4,838.6C430.8,848.2 439.5,862.8 443.7,872.4C447.9,882 449.7,889.7 449.7,896.5C449.7,903.3 447.1,909.2 443.7,913.4C440.3,917.6 431.6,920.4 429.2,921.8" fill="none" stroke="#ed1c24" stroke-width="14.5" stroke-linecap="round" stroke-linejoin="round"/>
<path d="M305,676C306.2,677 307.6,677.1 312.5,681.7C317.4,686.3 326.9,696.9 334.2,703.4C341.4,709.9 350.2,716.9 356,720.8C361.8,724.7 363.7,726.8 369,727C374.3,727.2 384.8,722.8 388,722" fill="none" stroke="#ed1c24" stroke-width="14.5" stroke-linecap="round" stroke-linejoin="round"/>
<path d="M388,718C391.7,717 403,714 410,712C417,710 423,706 430,706C437,706 443.3,711 452,712C460.7,713 471.5,709 482,712C492.5,715 504.5,725 515,730C525.5,735 534.2,740.3 545,742C555.8,743.7 571,741.8 580,740C589,738.2 594.1,734.3 599,731C603.9,727.7 607.8,721.8 609.5,720" fill="none" stroke="#ed1c24" stroke-width="14.5" stroke-linecap="round" stroke-linejoin="round"/>
<g transform="translate(290.4,664.3)"><path d="M-10.8,-28.3C-8.8,-28.1 -10.1,-26.9 -7.6,-25.2C-5.2,-23.6 -6.5,-23.4 -3.5,-23.4C-0.4,-23.4 -1.7,-23.9 1.6,-25.2C4.8,-26.6 3.2,-27.4 6.1,-27.4C9.1,-27.4 7.8,-27.5 10.3,-25.2C12.7,-23 10.9,-22.6 13.5,-20.7C16.1,-18.7 14.4,-19.4 18.1,-19.3C21.8,-19.1 20.7,-20.2 24.5,-20.2C28.3,-20.2 27,-21 29.6,-19.3C32.2,-17.6 31.7,-18.2 32.3,-15.1C32.9,-12.1 32.5,-13.2 31.4,-10.1C30.3,-7 29.4,-8.9 29.1,-6C28.8,-3.1 29.2,-4.6 30.5,-1.4C31.7,1.8 32.5,0.2 32.8,3.7C33.1,7.2 33.2,6.3 31.4,9.2C29.6,12.1 30.3,10.6 27.3,12.4C24.2,14.2 24.7,12.7 22.2,14.7C19.8,16.7 20.5,15.3 19.9,18.4C19.3,21.4 21,21.1 20.4,23.9C19.8,26.6 20.7,25.7 18.1,26.6C15.5,27.5 16.1,27.4 12.6,26.6C9.1,25.9 10.6,25.1 7.5,24.3C4.5,23.6 5.8,23.3 3.4,24.3C0.9,25.4 2.5,25.8 0.2,27.5C-2.1,29.3 -1.2,29.6 -3.5,29.6C-5.8,29.6 -5,29.6 -6.7,27.5C-8.4,25.5 -6.5,25.7 -8.5,23.4C-10.5,21.1 -9.1,21.9 -12.7,20.7C-16.2,19.4 -15.7,20.8 -19.1,19.7C-22.5,18.7 -21.4,19.7 -22.8,17.4C-24.1,15.1 -23.4,16.2 -23.2,12.8C-23.1,9.5 -21.8,10.7 -22.3,7.3C-22.8,4 -22.6,5.7 -24.6,2.8C-26.6,-0.2 -26.8,1.4 -28.3,-1.4C-29.7,-4.1 -29.5,-3.3 -28.9,-5.5C-28.3,-7.7 -28.9,-6.7 -26.4,-8.1C-23.9,-9.5 -24.6,-8.2 -21.4,-9.6C-18.2,-11.1 -18.8,-9.5 -16.8,-12.4C-14.8,-15.3 -16.5,-13.9 -15.4,-18.4C-14.3,-22.8 -15.1,-22.4 -13.6,-25.7C-12.1,-29 -12.8,-28.4 -10.8,-28.3Z" fill="url(#mb)" stroke="#1c3a7c" stroke-width="0.9"/><circle r="12.3" fill="url(#nb)" stroke="#1a1020" stroke-width="1"/></g>
<g transform="translate(357,667.6)"><path d="M-10.8,-28.3C-8.8,-28.1 -10.1,-26.9 -7.6,-25.2C-5.2,-23.6 -6.5,-23.4 -3.5,-23.4C-0.4,-23.4 -1.7,-23.9 1.6,-25.2C4.8,-26.6 3.2,-27.4 6.1,-27.4C9.1,-27.4 7.8,-27.5 10.3,-25.2C12.7,-23 10.9,-22.6 13.5,-20.7C16.1,-18.7 14.4,-19.4 18.1,-19.3C21.8,-19.1 20.7,-20.2 24.5,-20.2C28.3,-20.2 27,-21 29.6,-19.3C32.2,-17.6 31.7,-18.2 32.3,-15.1C32.9,-12.1 32.5,-13.2 31.4,-10.1C30.3,-7 29.4,-8.9 29.1,-6C28.8,-3.1 29.2,-4.6 30.5,-1.4C31.7,1.8 32.5,0.2 32.8,3.7C33.1,7.2 33.2,6.3 31.4,9.2C29.6,12.1 30.3,10.6 27.3,12.4C24.2,14.2 24.7,12.7 22.2,14.7C19.8,16.7 20.5,15.3 19.9,18.4C19.3,21.4 21,21.1 20.4,23.9C19.8,26.6 20.7,25.7 18.1,26.6C15.5,27.5 16.1,27.4 12.6,26.6C9.1,25.9 10.6,25.1 7.5,24.3C4.5,23.6 5.8,23.3 3.4,24.3C0.9,25.4 2.5,25.8 0.2,27.5C-2.1,29.3 -1.2,29.6 -3.5,29.6C-5.8,29.6 -5,29.6 -6.7,27.5C-8.4,25.5 -6.5,25.7 -8.5,23.4C-10.5,21.1 -9.1,21.9 -12.7,20.7C-16.2,19.4 -15.7,20.8 -19.1,19.7C-22.5,18.7 -21.4,19.7 -22.8,17.4C-24.1,15.1 -23.4,16.2 -23.2,12.8C-23.1,9.5 -21.8,10.7 -22.3,7.3C-22.8,4 -22.6,5.7 -24.6,2.8C-26.6,-0.2 -26.8,1.4 -28.3,-1.4C-29.7,-4.1 -29.5,-3.3 -28.9,-5.5C-28.3,-7.7 -28.9,-6.7 -26.4,-8.1C-23.9,-9.5 -24.6,-8.2 -21.4,-9.6C-18.2,-11.1 -18.8,-9.5 -16.8,-12.4C-14.8,-15.3 -16.5,-13.9 -15.4,-18.4C-14.3,-22.8 -15.1,-22.4 -13.6,-25.7C-12.1,-29 -12.8,-28.4 -10.8,-28.3Z" fill="url(#mb)" stroke="#1c3a7c" stroke-width="0.9"/><circle r="12.3" fill="url(#nb)" stroke="#1a1020" stroke-width="1"/></g>
<g transform="translate(235.5,700.5)"><path d="M-10.8,-28.3C-8.8,-28.1 -10.1,-26.9 -7.6,-25.2C-5.2,-23.6 -6.5,-23.4 -3.5,-23.4C-0.4,-23.4 -1.7,-23.9 1.6,-25.2C4.8,-26.6 3.2,-27.4 6.1,-27.4C9.1,-27.4 7.8,-27.5 10.3,-25.2C12.7,-23 10.9,-22.6 13.5,-20.7C16.1,-18.7 14.4,-19.4 18.1,-19.3C21.8,-19.1 20.7,-20.2 24.5,-20.2C28.3,-20.2 27,-21 29.6,-19.3C32.2,-17.6 31.7,-18.2 32.3,-15.1C32.9,-12.1 32.5,-13.2 31.4,-10.1C30.3,-7 29.4,-8.9 29.1,-6C28.8,-3.1 29.2,-4.6 30.5,-1.4C31.7,1.8 32.5,0.2 32.8,3.7C33.1,7.2 33.2,6.3 31.4,9.2C29.6,12.1 30.3,10.6 27.3,12.4C24.2,14.2 24.7,12.7 22.2,14.7C19.8,16.7 20.5,15.3 19.9,18.4C19.3,21.4 21,21.1 20.4,23.9C19.8,26.6 20.7,25.7 18.1,26.6C15.5,27.5 16.1,27.4 12.6,26.6C9.1,25.9 10.6,25.1 7.5,24.3C4.5,23.6 5.8,23.3 3.4,24.3C0.9,25.4 2.5,25.8 0.2,27.5C-2.1,29.3 -1.2,29.6 -3.5,29.6C-5.8,29.6 -5,29.6 -6.7,27.5C-8.4,25.5 -6.5,25.7 -8.5,23.4C-10.5,21.1 -9.1,21.9 -12.7,20.7C-16.2,19.4 -15.7,20.8 -19.1,19.7C-22.5,18.7 -21.4,19.7 -22.8,17.4C-24.1,15.1 -23.4,16.2 -23.2,12.8C-23.1,9.5 -21.8,10.7 -22.3,7.3C-22.8,4 -22.6,5.7 -24.6,2.8C-26.6,-0.2 -26.8,1.4 -28.3,-1.4C-29.7,-4.1 -29.5,-3.3 -28.9,-5.5C-28.3,-7.7 -28.9,-6.7 -26.4,-8.1C-23.9,-9.5 -24.6,-8.2 -21.4,-9.6C-18.2,-11.1 -18.8,-9.5 -16.8,-12.4C-14.8,-15.3 -16.5,-13.9 -15.4,-18.4C-14.3,-22.8 -15.1,-22.4 -13.6,-25.7C-12.1,-29 -12.8,-28.4 -10.8,-28.3Z" fill="url(#mb)" stroke="#1c3a7c" stroke-width="0.9"/><circle r="12.3" fill="url(#nb)" stroke="#1a1020" stroke-width="1"/></g>
<g transform="translate(388,718.6)"><path d="M-10.8,-28.3C-8.8,-28.1 -10.1,-26.9 -7.6,-25.2C-5.2,-23.6 -6.5,-23.4 -3.5,-23.4C-0.4,-23.4 -1.7,-23.9 1.6,-25.2C4.8,-26.6 3.2,-27.4 6.1,-27.4C9.1,-27.4 7.8,-27.5 10.3,-25.2C12.7,-23 10.9,-22.6 13.5,-20.7C16.1,-18.7 14.4,-19.4 18.1,-19.3C21.8,-19.1 20.7,-20.2 24.5,-20.2C28.3,-20.2 27,-21 29.6,-19.3C32.2,-17.6 31.7,-18.2 32.3,-15.1C32.9,-12.1 32.5,-13.2 31.4,-10.1C30.3,-7 29.4,-8.9 29.1,-6C28.8,-3.1 29.2,-4.6 30.5,-1.4C31.7,1.8 32.5,0.2 32.8,3.7C33.1,7.2 33.2,6.3 31.4,9.2C29.6,12.1 30.3,10.6 27.3,12.4C24.2,14.2 24.7,12.7 22.2,14.7C19.8,16.7 20.5,15.3 19.9,18.4C19.3,21.4 21,21.1 20.4,23.9C19.8,26.6 20.7,25.7 18.1,26.6C15.5,27.5 16.1,27.4 12.6,26.6C9.1,25.9 10.6,25.1 7.5,24.3C4.5,23.6 5.8,23.3 3.4,24.3C0.9,25.4 2.5,25.8 0.2,27.5C-2.1,29.3 -1.2,29.6 -3.5,29.6C-5.8,29.6 -5,29.6 -6.7,27.5C-8.4,25.5 -6.5,25.7 -8.5,23.4C-10.5,21.1 -9.1,21.9 -12.7,20.7C-16.2,19.4 -15.7,20.8 -19.1,19.7C-22.5,18.7 -21.4,19.7 -22.8,17.4C-24.1,15.1 -23.4,16.2 -23.2,12.8C-23.1,9.5 -21.8,10.7 -22.3,7.3C-22.8,4 -22.6,5.7 -24.6,2.8C-26.6,-0.2 -26.8,1.4 -28.3,-1.4C-29.7,-4.1 -29.5,-3.3 -28.9,-5.5C-28.3,-7.7 -28.9,-6.7 -26.4,-8.1C-23.9,-9.5 -24.6,-8.2 -21.4,-9.6C-18.2,-11.1 -18.8,-9.5 -16.8,-12.4C-14.8,-15.3 -16.5,-13.9 -15.4,-18.4C-14.3,-22.8 -15.1,-22.4 -13.6,-25.7C-12.1,-29 -12.8,-28.4 -10.8,-28.3Z" fill="url(#mb)" stroke="#1c3a7c" stroke-width="0.9"/><circle r="12.3" fill="url(#nb)" stroke="#1a1020" stroke-width="1"/></g>
<g transform="translate(216.5,751.5)"><path d="M-10.8,-28.3C-8.8,-28.1 -10.1,-26.9 -7.6,-25.2C-5.2,-23.6 -6.5,-23.4 -3.5,-23.4C-0.4,-23.4 -1.7,-23.9 1.6,-25.2C4.8,-26.6 3.2,-27.4 6.1,-27.4C9.1,-27.4 7.8,-27.5 10.3,-25.2C12.7,-23 10.9,-22.6 13.5,-20.7C16.1,-18.7 14.4,-19.4 18.1,-19.3C21.8,-19.1 20.7,-20.2 24.5,-20.2C28.3,-20.2 27,-21 29.6,-19.3C32.2,-17.6 31.7,-18.2 32.3,-15.1C32.9,-12.1 32.5,-13.2 31.4,-10.1C30.3,-7 29.4,-8.9 29.1,-6C28.8,-3.1 29.2,-4.6 30.5,-1.4C31.7,1.8 32.5,0.2 32.8,3.7C33.1,7.2 33.2,6.3 31.4,9.2C29.6,12.1 30.3,10.6 27.3,12.4C24.2,14.2 24.7,12.7 22.2,14.7C19.8,16.7 20.5,15.3 19.9,18.4C19.3,21.4 21,21.1 20.4,23.9C19.8,26.6 20.7,25.7 18.1,26.6C15.5,27.5 16.1,27.4 12.6,26.6C9.1,25.9 10.6,25.1 7.5,24.3C4.5,23.6 5.8,23.3 3.4,24.3C0.9,25.4 2.5,25.8 0.2,27.5C-2.1,29.3 -1.2,29.6 -3.5,29.6C-5.8,29.6 -5,29.6 -6.7,27.5C-8.4,25.5 -6.5,25.7 -8.5,23.4C-10.5,21.1 -9.1,21.9 -12.7,20.7C-16.2,19.4 -15.7,20.8 -19.1,19.7C-22.5,18.7 -21.4,19.7 -22.8,17.4C-24.1,15.1 -23.4,16.2 -23.2,12.8C-23.1,9.5 -21.8,10.7 -22.3,7.3C-22.8,4 -22.6,5.7 -24.6,2.8C-26.6,-0.2 -26.8,1.4 -28.3,-1.4C-29.7,-4.1 -29.5,-3.3 -28.9,-5.5C-28.3,-7.7 -28.9,-6.7 -26.4,-8.1C-23.9,-9.5 -24.6,-8.2 -21.4,-9.6C-18.2,-11.1 -18.8,-9.5 -16.8,-12.4C-14.8,-15.3 -16.5,-13.9 -15.4,-18.4C-14.3,-22.8 -15.1,-22.4 -13.6,-25.7C-12.1,-29 -12.8,-28.4 -10.8,-28.3Z" fill="url(#mb)" stroke="#1c3a7c" stroke-width="0.9"/><circle r="12.3" fill="url(#nb)" stroke="#1a1020" stroke-width="1"/></g>
<g transform="translate(341.8,766)"><path d="M-10.8,-28.3C-8.8,-28.1 -10.1,-26.9 -7.6,-25.2C-5.2,-23.6 -6.5,-23.4 -3.5,-23.4C-0.4,-23.4 -1.7,-23.9 1.6,-25.2C4.8,-26.6 3.2,-27.4 6.1,-27.4C9.1,-27.4 7.8,-27.5 10.3,-25.2C12.7,-23 10.9,-22.6 13.5,-20.7C16.1,-18.7 14.4,-19.4 18.1,-19.3C21.8,-19.1 20.7,-20.2 24.5,-20.2C28.3,-20.2 27,-21 29.6,-19.3C32.2,-17.6 31.7,-18.2 32.3,-15.1C32.9,-12.1 32.5,-13.2 31.4,-10.1C30.3,-7 29.4,-8.9 29.1,-6C28.8,-3.1 29.2,-4.6 30.5,-1.4C31.7,1.8 32.5,0.2 32.8,3.7C33.1,7.2 33.2,6.3 31.4,9.2C29.6,12.1 30.3,10.6 27.3,12.4C24.2,14.2 24.7,12.7 22.2,14.7C19.8,16.7 20.5,15.3 19.9,18.4C19.3,21.4 21,21.1 20.4,23.9C19.8,26.6 20.7,25.7 18.1,26.6C15.5,27.5 16.1,27.4 12.6,26.6C9.1,25.9 10.6,25.1 7.5,24.3C4.5,23.6 5.8,23.3 3.4,24.3C0.9,25.4 2.5,25.8 0.2,27.5C-2.1,29.3 -1.2,29.6 -3.5,29.6C-5.8,29.6 -5,29.6 -6.7,27.5C-8.4,25.5 -6.5,25.7 -8.5,23.4C-10.5,21.1 -9.1,21.9 -12.7,20.7C-16.2,19.4 -15.7,20.8 -19.1,19.7C-22.5,18.7 -21.4,19.7 -22.8,17.4C-24.1,15.1 -23.4,16.2 -23.2,12.8C-23.1,9.5 -21.8,10.7 -22.3,7.3C-22.8,4 -22.6,5.7 -24.6,2.8C-26.6,-0.2 -26.8,1.4 -28.3,-1.4C-29.7,-4.1 -29.5,-3.3 -28.9,-5.5C-28.3,-7.7 -28.9,-6.7 -26.4,-8.1C-23.9,-9.5 -24.6,-8.2 -21.4,-9.6C-18.2,-11.1 -18.8,-9.5 -16.8,-12.4C-14.8,-15.3 -16.5,-13.9 -15.4,-18.4C-14.3,-22.8 -15.1,-22.4 -13.6,-25.7C-12.1,-29 -12.8,-28.4 -10.8,-28.3Z" fill="url(#mb)" stroke="#1c3a7c" stroke-width="0.9"/><circle r="12.3" fill="url(#nb)" stroke="#1a1020" stroke-width="1"/></g>
<g transform="translate(244.1,805.5)"><path d="M-10.8,-28.3C-8.8,-28.1 -10.1,-26.9 -7.6,-25.2C-5.2,-23.6 -6.5,-23.4 -3.5,-23.4C-0.4,-23.4 -1.7,-23.9 1.6,-25.2C4.8,-26.6 3.2,-27.4 6.1,-27.4C9.1,-27.4 7.8,-27.5 10.3,-25.2C12.7,-23 10.9,-22.6 13.5,-20.7C16.1,-18.7 14.4,-19.4 18.1,-19.3C21.8,-19.1 20.7,-20.2 24.5,-20.2C28.3,-20.2 27,-21 29.6,-19.3C32.2,-17.6 31.7,-18.2 32.3,-15.1C32.9,-12.1 32.5,-13.2 31.4,-10.1C30.3,-7 29.4,-8.9 29.1,-6C28.8,-3.1 29.2,-4.6 30.5,-1.4C31.7,1.8 32.5,0.2 32.8,3.7C33.1,7.2 33.2,6.3 31.4,9.2C29.6,12.1 30.3,10.6 27.3,12.4C24.2,14.2 24.7,12.7 22.2,14.7C19.8,16.7 20.5,15.3 19.9,18.4C19.3,21.4 21,21.1 20.4,23.9C19.8,26.6 20.7,25.7 18.1,26.6C15.5,27.5 16.1,27.4 12.6,26.6C9.1,25.9 10.6,25.1 7.5,24.3C4.5,23.6 5.8,23.3 3.4,24.3C0.9,25.4 2.5,25.8 0.2,27.5C-2.1,29.3 -1.2,29.6 -3.5,29.6C-5.8,29.6 -5,29.6 -6.7,27.5C-8.4,25.5 -6.5,25.7 -8.5,23.4C-10.5,21.1 -9.1,21.9 -12.7,20.7C-16.2,19.4 -15.7,20.8 -19.1,19.7C-22.5,18.7 -21.4,19.7 -22.8,17.4C-24.1,15.1 -23.4,16.2 -23.2,12.8C-23.1,9.5 -21.8,10.7 -22.3,7.3C-22.8,4 -22.6,5.7 -24.6,2.8C-26.6,-0.2 -26.8,1.4 -28.3,-1.4C-29.7,-4.1 -29.5,-3.3 -28.9,-5.5C-28.3,-7.7 -28.9,-6.7 -26.4,-8.1C-23.9,-9.5 -24.6,-8.2 -21.4,-9.6C-18.2,-11.1 -18.8,-9.5 -16.8,-12.4C-14.8,-15.3 -16.5,-13.9 -15.4,-18.4C-14.3,-22.8 -15.1,-22.4 -13.6,-25.7C-12.1,-29 -12.8,-28.4 -10.8,-28.3Z" fill="url(#mb)" stroke="#1c3a7c" stroke-width="0.9"/><circle r="12.3" fill="url(#nb)" stroke="#1a1020" stroke-width="1"/></g>
<g transform="translate(308.2,817.2)"><path d="M-10.8,-28.3C-8.8,-28.1 -10.1,-26.9 -7.6,-25.2C-5.2,-23.6 -6.5,-23.4 -3.5,-23.4C-0.4,-23.4 -1.7,-23.9 1.6,-25.2C4.8,-26.6 3.2,-27.4 6.1,-27.4C9.1,-27.4 7.8,-27.5 10.3,-25.2C12.7,-23 10.9,-22.6 13.5,-20.7C16.1,-18.7 14.4,-19.4 18.1,-19.3C21.8,-19.1 20.7,-20.2 24.5,-20.2C28.3,-20.2 27,-21 29.6,-19.3C32.2,-17.6 31.7,-18.2 32.3,-15.1C32.9,-12.1 32.5,-13.2 31.4,-10.1C30.3,-7 29.4,-8.9 29.1,-6C28.8,-3.1 29.2,-4.6 30.5,-1.4C31.7,1.8 32.5,0.2 32.8,3.7C33.1,7.2 33.2,6.3 31.4,9.2C29.6,12.1 30.3,10.6 27.3,12.4C24.2,14.2 24.7,12.7 22.2,14.7C19.8,16.7 20.5,15.3 19.9,18.4C19.3,21.4 21,21.1 20.4,23.9C19.8,26.6 20.7,25.7 18.1,26.6C15.5,27.5 16.1,27.4 12.6,26.6C9.1,25.9 10.6,25.1 7.5,24.3C4.5,23.6 5.8,23.3 3.4,24.3C0.9,25.4 2.5,25.8 0.2,27.5C-2.1,29.3 -1.2,29.6 -3.5,29.6C-5.8,29.6 -5,29.6 -6.7,27.5C-8.4,25.5 -6.5,25.7 -8.5,23.4C-10.5,21.1 -9.1,21.9 -12.7,20.7C-16.2,19.4 -15.7,20.8 -19.1,19.7C-22.5,18.7 -21.4,19.7 -22.8,17.4C-24.1,15.1 -23.4,16.2 -23.2,12.8C-23.1,9.5 -21.8,10.7 -22.3,7.3C-22.8,4 -22.6,5.7 -24.6,2.8C-26.6,-0.2 -26.8,1.4 -28.3,-1.4C-29.7,-4.1 -29.5,-3.3 -28.9,-5.5C-28.3,-7.7 -28.9,-6.7 -26.4,-8.1C-23.9,-9.5 -24.6,-8.2 -21.4,-9.6C-18.2,-11.1 -18.8,-9.5 -16.8,-12.4C-14.8,-15.3 -16.5,-13.9 -15.4,-18.4C-14.3,-22.8 -15.1,-22.4 -13.6,-25.7C-12.1,-29 -12.8,-28.4 -10.8,-28.3Z" fill="url(#mb)" stroke="#1c3a7c" stroke-width="0.9"/><circle r="12.3" fill="url(#nb)" stroke="#1a1020" stroke-width="1"/></g>
<g transform="translate(361.8,843.8)"><path d="M-10.8,-28.3C-8.8,-28.1 -10.1,-26.9 -7.6,-25.2C-5.2,-23.6 -6.5,-23.4 -3.5,-23.4C-0.4,-23.4 -1.7,-23.9 1.6,-25.2C4.8,-26.6 3.2,-27.4 6.1,-27.4C9.1,-27.4 7.8,-27.5 10.3,-25.2C12.7,-23 10.9,-22.6 13.5,-20.7C16.1,-18.7 14.4,-19.4 18.1,-19.3C21.8,-19.1 20.7,-20.2 24.5,-20.2C28.3,-20.2 27,-21 29.6,-19.3C32.2,-17.6 31.7,-18.2 32.3,-15.1C32.9,-12.1 32.5,-13.2 31.4,-10.1C30.3,-7 29.4,-8.9 29.1,-6C28.8,-3.1 29.2,-4.6 30.5,-1.4C31.7,1.8 32.5,0.2 32.8,3.7C33.1,7.2 33.2,6.3 31.4,9.2C29.6,12.1 30.3,10.6 27.3,12.4C24.2,14.2 24.7,12.7 22.2,14.7C19.8,16.7 20.5,15.3 19.9,18.4C19.3,21.4 21,21.1 20.4,23.9C19.8,26.6 20.7,25.7 18.1,26.6C15.5,27.5 16.1,27.4 12.6,26.6C9.1,25.9 10.6,25.1 7.5,24.3C4.5,23.6 5.8,23.3 3.4,24.3C0.9,25.4 2.5,25.8 0.2,27.5C-2.1,29.3 -1.2,29.6 -3.5,29.6C-5.8,29.6 -5,29.6 -6.7,27.5C-8.4,25.5 -6.5,25.7 -8.5,23.4C-10.5,21.1 -9.1,21.9 -12.7,20.7C-16.2,19.4 -15.7,20.8 -19.1,19.7C-22.5,18.7 -21.4,19.7 -22.8,17.4C-24.1,15.1 -23.4,16.2 -23.2,12.8C-23.1,9.5 -21.8,10.7 -22.3,7.3C-22.8,4 -22.6,5.7 -24.6,2.8C-26.6,-0.2 -26.8,1.4 -28.3,-1.4C-29.7,-4.1 -29.5,-3.3 -28.9,-5.5C-28.3,-7.7 -28.9,-6.7 -26.4,-8.1C-23.9,-9.5 -24.6,-8.2 -21.4,-9.6C-18.2,-11.1 -18.8,-9.5 -16.8,-12.4C-14.8,-15.3 -16.5,-13.9 -15.4,-18.4C-14.3,-22.8 -15.1,-22.4 -13.6,-25.7C-12.1,-29 -12.8,-28.4 -10.8,-28.3Z" fill="url(#mb)" stroke="#1c3a7c" stroke-width="0.9"/><circle r="12.3" fill="url(#nb)" stroke="#1a1020" stroke-width="1"/></g>
<g transform="translate(414.8,876)"><path d="M-10.8,-28.3C-8.8,-28.1 -10.1,-26.9 -7.6,-25.2C-5.2,-23.6 -6.5,-23.4 -3.5,-23.4C-0.4,-23.4 -1.7,-23.9 1.6,-25.2C4.8,-26.6 3.2,-27.4 6.1,-27.4C9.1,-27.4 7.8,-27.5 10.3,-25.2C12.7,-23 10.9,-22.6 13.5,-20.7C16.1,-18.7 14.4,-19.4 18.1,-19.3C21.8,-19.1 20.7,-20.2 24.5,-20.2C28.3,-20.2 27,-21 29.6,-19.3C32.2,-17.6 31.7,-18.2 32.3,-15.1C32.9,-12.1 32.5,-13.2 31.4,-10.1C30.3,-7 29.4,-8.9 29.1,-6C28.8,-3.1 29.2,-4.6 30.5,-1.4C31.7,1.8 32.5,0.2 32.8,3.7C33.1,7.2 33.2,6.3 31.4,9.2C29.6,12.1 30.3,10.6 27.3,12.4C24.2,14.2 24.7,12.7 22.2,14.7C19.8,16.7 20.5,15.3 19.9,18.4C19.3,21.4 21,21.1 20.4,23.9C19.8,26.6 20.7,25.7 18.1,26.6C15.5,27.5 16.1,27.4 12.6,26.6C9.1,25.9 10.6,25.1 7.5,24.3C4.5,23.6 5.8,23.3 3.4,24.3C0.9,25.4 2.5,25.8 0.2,27.5C-2.1,29.3 -1.2,29.6 -3.5,29.6C-5.8,29.6 -5,29.6 -6.7,27.5C-8.4,25.5 -6.5,25.7 -8.5,23.4C-10.5,21.1 -9.1,21.9 -12.7,20.7C-16.2,19.4 -15.7,20.8 -19.1,19.7C-22.5,18.7 -21.4,19.7 -22.8,17.4C-24.1,15.1 -23.4,16.2 -23.2,12.8C-23.1,9.5 -21.8,10.7 -22.3,7.3C-22.8,4 -22.6,5.7 -24.6,2.8C-26.6,-0.2 -26.8,1.4 -28.3,-1.4C-29.7,-4.1 -29.5,-3.3 -28.9,-5.5C-28.3,-7.7 -28.9,-6.7 -26.4,-8.1C-23.9,-9.5 -24.6,-8.2 -21.4,-9.6C-18.2,-11.1 -18.8,-9.5 -16.8,-12.4C-14.8,-15.3 -16.5,-13.9 -15.4,-18.4C-14.3,-22.8 -15.1,-22.4 -13.6,-25.7C-12.1,-29 -12.8,-28.4 -10.8,-28.3Z" fill="url(#mb)" stroke="#1c3a7c" stroke-width="0.9"/><circle r="12.3" fill="url(#nb)" stroke="#1a1020" stroke-width="1"/></g>
<g transform="translate(477,865.5)"><path d="M-10.8,-28.3C-8.8,-28.1 -10.1,-26.9 -7.6,-25.2C-5.2,-23.6 -6.5,-23.4 -3.5,-23.4C-0.4,-23.4 -1.7,-23.9 1.6,-25.2C4.8,-26.6 3.2,-27.4 6.1,-27.4C9.1,-27.4 7.8,-27.5 10.3,-25.2C12.7,-23 10.9,-22.6 13.5,-20.7C16.1,-18.7 14.4,-19.4 18.1,-19.3C21.8,-19.1 20.7,-20.2 24.5,-20.2C28.3,-20.2 27,-21 29.6,-19.3C32.2,-17.6 31.7,-18.2 32.3,-15.1C32.9,-12.1 32.5,-13.2 31.4,-10.1C30.3,-7 29.4,-8.9 29.1,-6C28.8,-3.1 29.2,-4.6 30.5,-1.4C31.7,1.8 32.5,0.2 32.8,3.7C33.1,7.2 33.2,6.3 31.4,9.2C29.6,12.1 30.3,10.6 27.3,12.4C24.2,14.2 24.7,12.7 22.2,14.7C19.8,16.7 20.5,15.3 19.9,18.4C19.3,21.4 21,21.1 20.4,23.9C19.8,26.6 20.7,25.7 18.1,26.6C15.5,27.5 16.1,27.4 12.6,26.6C9.1,25.9 10.6,25.1 7.5,24.3C4.5,23.6 5.8,23.3 3.4,24.3C0.9,25.4 2.5,25.8 0.2,27.5C-2.1,29.3 -1.2,29.6 -3.5,29.6C-5.8,29.6 -5,29.6 -6.7,27.5C-8.4,25.5 -6.5,25.7 -8.5,23.4C-10.5,21.1 -9.1,21.9 -12.7,20.7C-16.2,19.4 -15.7,20.8 -19.1,19.7C-22.5,18.7 -21.4,19.7 -22.8,17.4C-24.1,15.1 -23.4,16.2 -23.2,12.8C-23.1,9.5 -21.8,10.7 -22.3,7.3C-22.8,4 -22.6,5.7 -24.6,2.8C-26.6,-0.2 -26.8,1.4 -28.3,-1.4C-29.7,-4.1 -29.5,-3.3 -28.9,-5.5C-28.3,-7.7 -28.9,-6.7 -26.4,-8.1C-23.9,-9.5 -24.6,-8.2 -21.4,-9.6C-18.2,-11.1 -18.8,-9.5 -16.8,-12.4C-14.8,-15.3 -16.5,-13.9 -15.4,-18.4C-14.3,-22.8 -15.1,-22.4 -13.6,-25.7C-12.1,-29 -12.8,-28.4 -10.8,-28.3Z" fill="url(#mb)" stroke="#1c3a7c" stroke-width="0.9"/><circle r="12.3" fill="url(#nb)" stroke="#1a1020" stroke-width="1"/></g>
<g transform="translate(452,724)"><path d="M-10.8,-28.3C-8.8,-28.1 -10.1,-26.9 -7.6,-25.2C-5.2,-23.6 -6.5,-23.4 -3.5,-23.4C-0.4,-23.4 -1.7,-23.9 1.6,-25.2C4.8,-26.6 3.2,-27.4 6.1,-27.4C9.1,-27.4 7.8,-27.5 10.3,-25.2C12.7,-23 10.9,-22.6 13.5,-20.7C16.1,-18.7 14.4,-19.4 18.1,-19.3C21.8,-19.1 20.7,-20.2 24.5,-20.2C28.3,-20.2 27,-21 29.6,-19.3C32.2,-17.6 31.7,-18.2 32.3,-15.1C32.9,-12.1 32.5,-13.2 31.4,-10.1C30.3,-7 29.4,-8.9 29.1,-6C28.8,-3.1 29.2,-4.6 30.5,-1.4C31.7,1.8 32.5,0.2 32.8,3.7C33.1,7.2 33.2,6.3 31.4,9.2C29.6,12.1 30.3,10.6 27.3,12.4C24.2,14.2 24.7,12.7 22.2,14.7C19.8,16.7 20.5,15.3 19.9,18.4C19.3,21.4 21,21.1 20.4,23.9C19.8,26.6 20.7,25.7 18.1,26.6C15.5,27.5 16.1,27.4 12.6,26.6C9.1,25.9 10.6,25.1 7.5,24.3C4.5,23.6 5.8,23.3 3.4,24.3C0.9,25.4 2.5,25.8 0.2,27.5C-2.1,29.3 -1.2,29.6 -3.5,29.6C-5.8,29.6 -5,29.6 -6.7,27.5C-8.4,25.5 -6.5,25.7 -8.5,23.4C-10.5,21.1 -9.1,21.9 -12.7,20.7C-16.2,19.4 -15.7,20.8 -19.1,19.7C-22.5,18.7 -21.4,19.7 -22.8,17.4C-24.1,15.1 -23.4,16.2 -23.2,12.8C-23.1,9.5 -21.8,10.7 -22.3,7.3C-22.8,4 -22.6,5.7 -24.6,2.8C-26.6,-0.2 -26.8,1.4 -28.3,-1.4C-29.7,-4.1 -29.5,-3.3 -28.9,-5.5C-28.3,-7.7 -28.9,-6.7 -26.4,-8.1C-23.9,-9.5 -24.6,-8.2 -21.4,-9.6C-18.2,-11.1 -18.8,-9.5 -16.8,-12.4C-14.8,-15.3 -16.5,-13.9 -15.4,-18.4C-14.3,-22.8 -15.1,-22.4 -13.6,-25.7C-12.1,-29 -12.8,-28.4 -10.8,-28.3Z" fill="url(#mb)" stroke="#1c3a7c" stroke-width="0.9"/><circle r="12.3" fill="url(#nb)" stroke="#1a1020" stroke-width="1"/></g>
<g transform="translate(512,752.5)"><path d="M-10.8,-28.3C-8.8,-28.1 -10.1,-26.9 -7.6,-25.2C-5.2,-23.6 -6.5,-23.4 -3.5,-23.4C-0.4,-23.4 -1.7,-23.9 1.6,-25.2C4.8,-26.6 3.2,-27.4 6.1,-27.4C9.1,-27.4 7.8,-27.5 10.3,-25.2C12.7,-23 10.9,-22.6 13.5,-20.7C16.1,-18.7 14.4,-19.4 18.1,-19.3C21.8,-19.1 20.7,-20.2 24.5,-20.2C28.3,-20.2 27,-21 29.6,-19.3C32.2,-17.6 31.7,-18.2 32.3,-15.1C32.9,-12.1 32.5,-13.2 31.4,-10.1C30.3,-7 29.4,-8.9 29.1,-6C28.8,-3.1 29.2,-4.6 30.5,-1.4C31.7,1.8 32.5,0.2 32.8,3.7C33.1,7.2 33.2,6.3 31.4,9.2C29.6,12.1 30.3,10.6 27.3,12.4C24.2,14.2 24.7,12.7 22.2,14.7C19.8,16.7 20.5,15.3 19.9,18.4C19.3,21.4 21,21.1 20.4,23.9C19.8,26.6 20.7,25.7 18.1,26.6C15.5,27.5 16.1,27.4 12.6,26.6C9.1,25.9 10.6,25.1 7.5,24.3C4.5,23.6 5.8,23.3 3.4,24.3C0.9,25.4 2.5,25.8 0.2,27.5C-2.1,29.3 -1.2,29.6 -3.5,29.6C-5.8,29.6 -5,29.6 -6.7,27.5C-8.4,25.5 -6.5,25.7 -8.5,23.4C-10.5,21.1 -9.1,21.9 -12.7,20.7C-16.2,19.4 -15.7,20.8 -19.1,19.7C-22.5,18.7 -21.4,19.7 -22.8,17.4C-24.1,15.1 -23.4,16.2 -23.2,12.8C-23.1,9.5 -21.8,10.7 -22.3,7.3C-22.8,4 -22.6,5.7 -24.6,2.8C-26.6,-0.2 -26.8,1.4 -28.3,-1.4C-29.7,-4.1 -29.5,-3.3 -28.9,-5.5C-28.3,-7.7 -28.9,-6.7 -26.4,-8.1C-23.9,-9.5 -24.6,-8.2 -21.4,-9.6C-18.2,-11.1 -18.8,-9.5 -16.8,-12.4C-14.8,-15.3 -16.5,-13.9 -15.4,-18.4C-14.3,-22.8 -15.1,-22.4 -13.6,-25.7C-12.1,-29 -12.8,-28.4 -10.8,-28.3Z" fill="url(#mb)" stroke="#1c3a7c" stroke-width="0.9"/><circle r="12.3" fill="url(#nb)" stroke="#1a1020" stroke-width="1"/></g>
<g transform="translate(514,814.5)"><path d="M-10.8,-28.3C-8.8,-28.1 -10.1,-26.9 -7.6,-25.2C-5.2,-23.6 -6.5,-23.4 -3.5,-23.4C-0.4,-23.4 -1.7,-23.9 1.6,-25.2C4.8,-26.6 3.2,-27.4 6.1,-27.4C9.1,-27.4 7.8,-27.5 10.3,-25.2C12.7,-23 10.9,-22.6 13.5,-20.7C16.1,-18.7 14.4,-19.4 18.1,-19.3C21.8,-19.1 20.7,-20.2 24.5,-20.2C28.3,-20.2 27,-21 29.6,-19.3C32.2,-17.6 31.7,-18.2 32.3,-15.1C32.9,-12.1 32.5,-13.2 31.4,-10.1C30.3,-7 29.4,-8.9 29.1,-6C28.8,-3.1 29.2,-4.6 30.5,-1.4C31.7,1.8 32.5,0.2 32.8,3.7C33.1,7.2 33.2,6.3 31.4,9.2C29.6,12.1 30.3,10.6 27.3,12.4C24.2,14.2 24.7,12.7 22.2,14.7C19.8,16.7 20.5,15.3 19.9,18.4C19.3,21.4 21,21.1 20.4,23.9C19.8,26.6 20.7,25.7 18.1,26.6C15.5,27.5 16.1,27.4 12.6,26.6C9.1,25.9 10.6,25.1 7.5,24.3C4.5,23.6 5.8,23.3 3.4,24.3C0.9,25.4 2.5,25.8 0.2,27.5C-2.1,29.3 -1.2,29.6 -3.5,29.6C-5.8,29.6 -5,29.6 -6.7,27.5C-8.4,25.5 -6.5,25.7 -8.5,23.4C-10.5,21.1 -9.1,21.9 -12.7,20.7C-16.2,19.4 -15.7,20.8 -19.1,19.7C-22.5,18.7 -21.4,19.7 -22.8,17.4C-24.1,15.1 -23.4,16.2 -23.2,12.8C-23.1,9.5 -21.8,10.7 -22.3,7.3C-22.8,4 -22.6,5.7 -24.6,2.8C-26.6,-0.2 -26.8,1.4 -28.3,-1.4C-29.7,-4.1 -29.5,-3.3 -28.9,-5.5C-28.3,-7.7 -28.9,-6.7 -26.4,-8.1C-23.9,-9.5 -24.6,-8.2 -21.4,-9.6C-18.2,-11.1 -18.8,-9.5 -16.8,-12.4C-14.8,-15.3 -16.5,-13.9 -15.4,-18.4C-14.3,-22.8 -15.1,-22.4 -13.6,-25.7C-12.1,-29 -12.8,-28.4 -10.8,-28.3Z" fill="url(#mb)" stroke="#1c3a7c" stroke-width="0.9"/><circle r="12.3" fill="url(#nb)" stroke="#1a1020" stroke-width="1"/></g>
<line x1="162.5" y1="650.5" x2="233" y2="698.5" stroke="#000" stroke-width="4.4"/>
<line x1="438" y1="802.5" x2="489.6" y2="951.5" stroke="#000" stroke-width="4.4"/>
<line x1="177" y1="989" x2="233" y2="989" stroke="#000" stroke-width="4.4"/>
<line x1="589" y1="774.5" x2="680" y2="840.5" stroke="#000" stroke-width="4.4"/>
<line x1="584.5" y1="887" x2="680" y2="838.5" stroke="#000" stroke-width="4.4"/>
<text x="5.6" y="42.6" font-size="69" textLength="35.6" lengthAdjust="spacingAndGlyphs" text-anchor="start">a</text>
<text x="5.6" y="533.2" font-size="67.5" text-anchor="start">b</text>
<text x="200.2" y="79.5" font-size="41.2" text-anchor="start">Normal Adipose Tissue</text>
<text x="208.4" y="580.8" font-size="41.2" text-anchor="start">Obese Adipose Tissue</text>
<text x="628.7" y="156.6" font-size="26" text-anchor="start">M2 Macrophage</text>
<text x="5.6" y="243" font-size="26" text-anchor="start">Blood vessel</text>
<text x="687.4" y="320.7" font-size="26" text-anchor="start">Adipocytes</text>
<text x="58.1" y="642.5" font-size="26" text-anchor="start">M1 Macrophage</text>
<text x="11.4" y="998.6" font-size="26" text-anchor="start">Blood vessel</text>
<text x="682" y="854.3" font-size="26" text-anchor="start">Adipocytes</text>
<text x="448.4" y="974.9" font-size="26" text-anchor="start">Apoptotic</text>
<text x="448.4" y="1005.2" font-size="26" text-anchor="start">adipocyte</text>
</svg>
</body></html>
